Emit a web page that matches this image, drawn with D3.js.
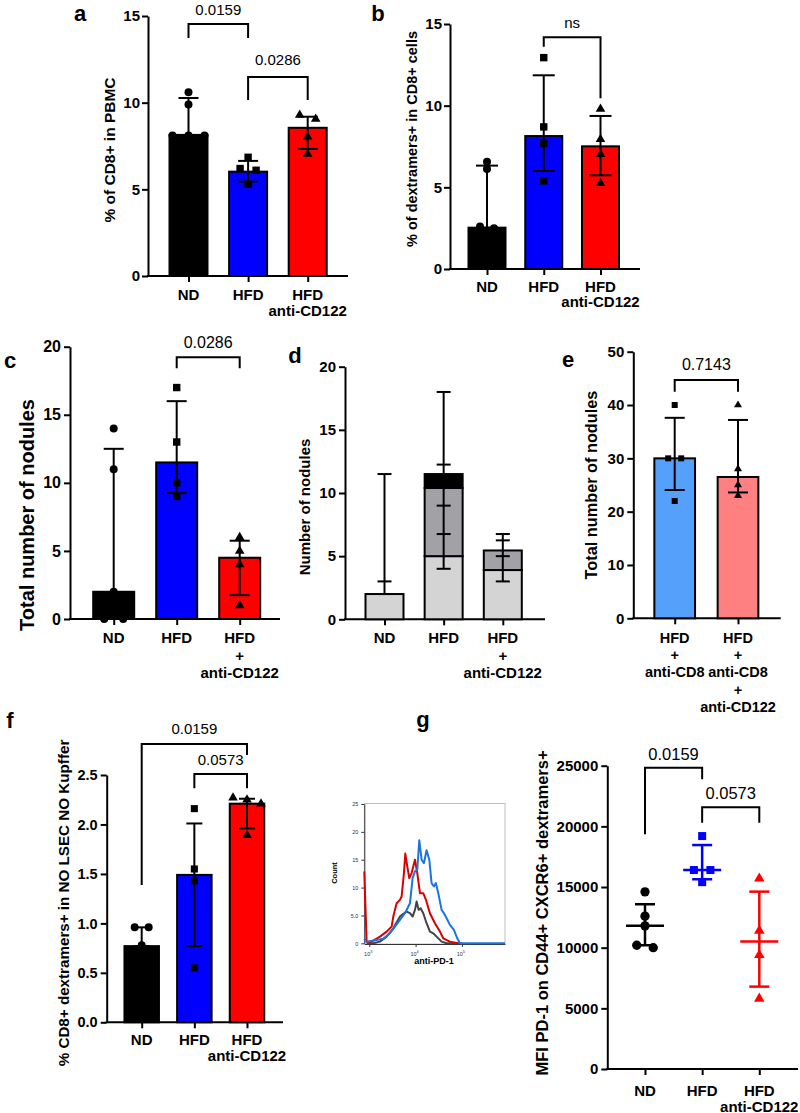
<!DOCTYPE html>
<html><head><meta charset="utf-8">
<script src="https://cdn.jsdelivr.net/npm/d3@7"></script>
<style>body{margin:0;background:#fff}svg{display:block}</style>
</head><body>
<svg id="fig" width="800" height="1113"></svg>
<script>
// ================= DATA =================
// Panel a
const aCategories = ["ND", "HFD", "HFD anti-CD122"];
const aLabels = [["ND"], ["HFD"], ["HFD", "anti-CD122"]];
const aBarValues = [8.14, 6.02, 8.55];
const aErrLow = [8.1, 5.44, 7.33];
const aErrHigh = [10.27, 6.64, 9.19];
const aPoints = [[10.6, 9.9, 8.1, 8.1, 8.1], [6.85, 6.2, 6.1, 5.3], [9.29, 9.06, 8.04, 7.04]];
const aTicks = [0, 5, 10, 15];
const aPValues = [["ND", "HFD", "0.0159"], ["HFD", "HFD anti-CD122", "0.0286"]];

// Panel b
const bCategories = ["ND", "HFD", "HFD anti-CD122"];
const bLabels = [["ND"], ["HFD"], ["HFD", "anti-CD122"]];
const bBarValues = [2.53, 8.14, 7.51];
const bErrLow = [2.53, 6.0, 5.74];
const bErrHigh = [6.33, 11.86, 9.37];
const bPoints = [[6.57, 6.12, 2.6, 2.5], [12.94, 8.7, 7.7, 5.4], [9.8, 7.94, 7.02, 5.25]];
const bTicks = [0, 5, 10, 15];
const bPValues = [["HFD", "HFD anti-CD122", "ns"]];

// Panel c
const cCategories = ["ND", "HFD", "HFD + anti-CD122"];
const cLabels = [["ND"], ["HFD"], ["HFD", "+", "anti-CD122"]];
const cBarValues = [2, 11.5, 4.5];
const cErrLow = [0, 9.25, 1.75];
const cErrHigh = [12.5, 16, 5.75];
const cPoints = [[14, 11, 2, 0, 0], [17, 13, 10, 9], [6, 5, 4, 1]];
const cTicks = [0, 5, 10, 15, 20];
const cPValues = [["HFD", "HFD + anti-CD122", "0.0286"]];

// Panel d (stacked)
const dCategories = ["ND", "HFD", "HFD + anti-CD122"];
const dLabels = [["ND"], ["HFD"], ["HFD", "+", "anti-CD122"]];
const dLight = [2, 5, 3.9];
const dDark = [0, 5.4, 1.55];
const dBlack = [0, 1.1, 0];
const dErrCaps = [[2, 3, 11.5], [4, 6.75, 9, 12.25, 18], [3, 5, 6.25, 6.75]];
const dTicks = [0, 5, 10, 15, 20];

// Panel e
const eCategories = ["HFD + anti-CD8", "HFD + anti-CD8 + anti-CD122"];
const eLabels = [["HFD", "+", "anti-CD8"], ["HFD", "+", "anti-CD8", "+", "anti-CD122"]];
const eBarValues = [30, 26.5];
const eErrLow = [24.06, 23.6];
const eErrHigh = [37.6, 37.2];
const ePoints = [[40, 30, 30, 22], [40, 28, 25, 23]];
const eTicks = [0, 10, 20, 30, 40, 50];
const ePValues = [["HFD + anti-CD8", "HFD + anti-CD8 + anti-CD122", "0.7143"]];

// Panel f
const fCategories = ["ND", "HFD", "HFD anti-CD122"];
const fLabels = [["ND"], ["HFD"], ["HFD", "anti-CD122"]];
const fBarValues = [0.77, 1.49, 2.21];
const fErrLow = [0.77, 0.77, 1.96];
const fErrHigh = [0.96, 2.01, 2.26];
const fPoints = [[0.96, 0.96, 0.78], [2.16, 1.55, 1.43, 0.55], [2.27, 2.25, 2.21, 1.89]];
const fTicks = [0, 0.5, 1.0, 1.5, 2.0, 2.5];
const fPValues = [["ND", "HFD anti-CD122", "0.0159"], ["HFD", "HFD anti-CD122", "0.0573"]];

// Panel g (scatter, mean ± SD)
const gCategories = ["ND", "HFD", "HFD anti-CD122"];
const gLabels = [["ND"], ["HFD"], ["HFD", "anti-CD122"]];
const gMeans = [11800, 16400, 10500];
const gErrLow = [10200, 15640, 6790];
const gErrHigh = [13580, 18460, 14620];
const gPoints = [[14600, 12600, 11800, 10200, 10000], [19200, 16400, 16400, 15400], [15700, 11400, 9400, 5800]];
const gTicks = [0, 5000, 10000, 15000, 20000, 25000];
const gPValues = [["ND", "HFD", "0.0159"], ["HFD", "HFD anti-CD122", "0.0573"]];

// Histogram (anti-PD-1, log10 intensity vs count)
const histTicksY = [0, 5, 10, 15, 20, 25];
const histTicksX = [3, 4, 5];
const histGrayLog = [2.942, 3.086, 3.23, 3.374, 3.518, 3.662, 3.734, 3.806, 3.878, 3.935, 3.986, 4.022, 4.065, 4.108, 4.165, 4.237, 4.309, 4.381, 4.453, 4.561, 4.669, 5.0];
const histGrayCount = [0, 0, 0.3, 1.2, 2.7, 4.8, 5.3, 5.7, 5.4, 4.8, 6.0, 7.5, 6.0, 6.3, 5.4, 3.6, 2.1, 1.8, 1.2, 0.3, 0, 0];
const histRedLog = [2.892, 2.942, 3.05, 3.23, 3.374, 3.482, 3.518, 3.59, 3.662, 3.698, 3.748, 3.777, 3.82, 3.863, 3.914, 3.986, 4.036, 4.094, 4.165, 4.223, 4.309, 4.417, 4.525, 4.597, 4.741, 4.921];
const histRedCount = [12.9, 0.3, 0.3, 1.2, 2.1, 3.0, 4.8, 7.2, 7.8, 8.4, 12.6, 16.1, 13.8, 11.7, 12.6, 15.0, 12.6, 9.0, 9.0, 7.8, 5.4, 3.6, 2.1, 0.9, 0.3, 0];
const histBlueLog = [2.892, 2.92, 2.95, 3.158, 3.302, 3.446, 3.554, 3.662, 3.77, 3.878, 3.935, 3.986, 4.036, 4.079, 4.129, 4.18, 4.237, 4.295, 4.345, 4.396, 4.439, 4.489, 4.561, 4.612, 4.669, 4.741, 4.827, 4.899, 4.957, 5.93];
const histBlueCount = [0.8, 0.4, 0.3, 0.6, 0.8, 1.8, 3.0, 4.2, 5.4, 7.2, 11.7, 12.9, 13.2, 18.5, 15.0, 14.4, 16.7, 15.0, 10.8, 10.2, 10.8, 9.0, 6.0, 5.4, 4.5, 3.3, 2.4, 0.9, 0, 0];

// ================= DRAWING =================
const FONT = '"Liberation Sans", Arial, Helvetica, sans-serif';
const svg = d3.select("#fig").attr("font-family", FONT);
const BLUE = "#0000ff", RED = "#ff0000", BLACK = "#000";

function addText(g, x, y, str, size, weight, anchor, fill) {
  return g.append("text").attr("x", x).attr("y", y)
    .attr("font-size", size).attr("font-weight", weight || "normal")
    .attr("text-anchor", anchor || "middle").attr("fill", fill || "#000")
    .attr("font-family", FONT).text(str);
}

function swarm(vals, y, thresh, spacing) {
  const items = vals.map(v => ({ v, py: y(v) })).sort((a, b) => a.py - b.py);
  const clusters = []; let cur = [];
  items.forEach(it => {
    if (cur.length && it.py - cur[cur.length - 1].py > thresh) { clusters.push(cur); cur = []; }
    cur.push(it);
  });
  if (cur.length) clusters.push(cur);
  const out = [];
  clusters.forEach(c => c.forEach((it, i) => out.push({ v: it.v, dx: (i - (c.length - 1) / 2) * spacing })));
  return out;
}

function frame(L, cats, ticks, max, fmt) {
  const g = svg.append("g");
  const y = d3.scaleLinear().domain([0, max]).range([L.yBot, L.yTop]);
  const x = d3.scalePoint().domain(cats).range([L.c0, L.c1]);
  const ax = d3.axisLeft(y).tickValues(ticks).tickSize(6).tickSizeOuter(0).tickPadding(L.tickPad || 3)
    .tickFormat(fmt || d3.format("d"));
  const a = g.append("g").attr("transform", `translate(${L.axisX},0)`).call(ax)
    .attr("font-family", FONT).attr("font-size", L.tickFont).attr("font-weight", "bold");
  a.select(".domain").attr("stroke", "#000").attr("stroke-width", 2);
  a.selectAll(".tick line").attr("stroke", "#000").attr("stroke-width", 2);
  a.selectAll(".tick text").attr("fill", "#000");
  g.append("line").attr("x1", L.axisX - 1).attr("x2", L.xEnd).attr("y1", L.yBot).attr("y2", L.yBot)
    .attr("stroke", "#000").attr("stroke-width", 2);
  const bx = g.append("g").attr("transform", `translate(0,${L.yBot})`)
    .call(d3.axisBottom(x).tickSize(6).tickSizeOuter(0).tickFormat(""));
  bx.select(".domain").remove();
  bx.selectAll(".tick line").attr("stroke", "#000").attr("stroke-width", 2);
  g.append("text").attr("transform", `translate(${L.titleX},${L.titleY}) rotate(-90)`)
    .attr("dy", "0.35em").attr("text-anchor", "middle").attr("font-size", L.titleFont)
    .attr("font-weight", "bold").attr("font-family", FONT).text(L.title);
  addText(g, L.letterX, L.letterY, L.letter, 22, "bold");
  return { g, x, y };
}

function catLabels(g, L, x, labels) {
  x.domain().forEach((c, i) => labels[i].forEach((line, j) =>
    addText(g, x(c), L.labelY + j * L.labelStep, line, L.catFont || 15, "bold")));
}

function bracketsDraw(g, L, x, pvals) {
  pvals.forEach((p, i) => {
    const b = L.brackets[i], x1 = x(p[0]), x2 = x(p[1]);
    g.append("path").attr("d", `M${x1},${b.legL}V${b.line}H${x2}V${b.legR}`)
      .attr("fill", "none").attr("stroke", "#000").attr("stroke-width", 2);
    addText(g, (x1 + x2) / 2, b.text, p[2], L.pFont || 15, "normal");
  });
}

function barsDraw(g, L, x, y, cats, vals, fills) {
  g.selectAll(null).data(cats).join("rect")
    .attr("x", c => x(c) - L.barW / 2).attr("width", L.barW)
    .attr("y", (c, i) => y(vals[i])).attr("height", (c, i) => y(0) - y(vals[i]))
    .attr("fill", (c, i) => fills[i]).attr("stroke", "#000").attr("stroke-width", 2);
}

function errDraw(g, x, y, cats, lo, hi, colors, capW, sw) {
  cats.forEach((c, i) => {
    const cx = x(c), col = colors[i];
    g.append("line").attr("x1", cx).attr("x2", cx).attr("y1", y(lo[i])).attr("y2", y(hi[i]))
      .attr("stroke", col).attr("stroke-width", sw);
    [lo[i], hi[i]].forEach(v => g.append("line").attr("x1", cx - capW).attr("x2", cx + capW)
      .attr("y1", y(v)).attr("y2", y(v)).attr("stroke", col).attr("stroke-width", sw));
  });
}

function pointsDraw(g, x, y, cats, pts, shapes, sizes, colors, spacing) {
  cats.forEach((c, i) => {
    swarm(pts[i], y, 5, spacing).forEach(p => {
      g.append("path").attr("d", d3.symbol().type(shapes[i]).size(sizes[i])())
        .attr("transform", `translate(${x(c) + p.dx},${y(p.v)})`).attr("fill", colors[i]);
    });
  });
}

const SH = [d3.symbolCircle, d3.symbolSquare, d3.symbolTriangle];

// ---------- Panel a ----------
{
  const L = { axisX: 148, yTop: 16, yBot: 276, xEnd: 348, c0: 188.5, c1: 307.7, barW: 38, tickFont: 15, tickPad: 2,
    title: "% of CD8+ in PBMC", titleX: 110, titleY: 150, titleFont: 15.5, letter: "a", letterX: 80, letterY: 21,
    labelY: 300, labelStep: 16,
    brackets: [{ line: 24, legL: 38, legR: 38, text: 15 }, { line: 77, legL: 100, legR: 100, text: 65 }] };
  const { g, x, y } = frame(L, aCategories, aTicks, 15);
  barsDraw(g, L, x, y, aCategories, aBarValues, [BLACK, BLUE, RED]);
  pointsDraw(g, x, y, aCategories, aPoints, SH, [50, 55, 40], ["#000", "#000", "#000"], 16);
  errDraw(g, x, y, aCategories, aErrLow, aErrHigh, ["#000", "#000", "#000"], 10, 2);
  catLabels(g, L, x, aLabels);
  bracketsDraw(g, L, x, aPValues);
}
// ---------- Panel b ----------
{
  const L = { axisX: 450, yTop: 24, yBot: 269, xEnd: 640, c0: 487, c1: 600.5, barW: 37, tickFont: 15, tickPad: 2,
    title: "% of dextramers+ in CD8+ cells", titleX: 412, titleY: 139, titleFont: 14.5, letter: "b", letterX: 378, letterY: 21,
    labelY: 292, labelStep: 15,
    brackets: [{ line: 37.3, legL: 46.7, legR: 98.3, text: 28 }] };
  const { g, x, y } = frame(L, bCategories, bTicks, 15);
  barsDraw(g, L, x, y, bCategories, bBarValues, [BLACK, BLUE, RED]);
  pointsDraw(g, x, y, bCategories, bPoints, SH, [50, 55, 40], ["#000", "#000", "#000"], 14);
  errDraw(g, x, y, bCategories, bErrLow, bErrHigh, ["#000", "#000", "#000"], 11, 2);
  catLabels(g, L, x, bLabels);
  bracketsDraw(g, L, x, bPValues);
}
// ---------- Panel c ----------
{
  const L = { axisX: 70, yTop: 346.7, yBot: 619, xEnd: 280, c0: 113.7, c1: 239.7, barW: 41, tickFont: 16,
    title: "Total number of nodules", titleX: 27, titleY: 515, titleFont: 20, letter: "c", letterX: 10, letterY: 368,
    labelY: 643, labelStep: 17.5, pFont: 16,
    brackets: [{ line: 357.3, legL: 368.3, legR: 368.3, text: 348 }] };
  const { g, x, y } = frame(L, cCategories, cTicks, 20);
  barsDraw(g, L, x, y, cCategories, cBarValues, [BLACK, BLUE, RED]);
  pointsDraw(g, x, y, cCategories, cPoints, SH, [50, 55, 40], ["#000", "#000", "#000"], 19);
  errDraw(g, x, y, cCategories, cErrLow, cErrHigh, ["#000", "#000", "#000"], 10, 2);
  catLabels(g, L, x, cLabels);
  bracketsDraw(g, L, x, cPValues);
}
// ---------- Panel d ----------
{
  const L = { axisX: 345, yTop: 366.7, yBot: 619.3, xEnd: 545, c0: 384.5, c1: 502.8, barW: 38, tickFont: 15,
    title: "Number of nodules", titleX: 305, titleY: 507, titleFont: 15, letter: "d", letterX: 295, letterY: 363,
    labelY: 643, labelStep: 17.5 };
  const { g, x, y } = frame(L, dCategories, dTicks, 20);
  const rows = dCategories.map((c, i) => ({ cat: c, light: dLight[i], dark: dDark[i], black: dBlack[i] }));
  const series = d3.stack().keys(["light", "dark", "black"])(rows);
  const fills = { light: "#d4d4d4", dark: "#a2a2a6", black: "#000" };
  series.forEach(s => {
    s.forEach(seg => {
      if (seg[1] - seg[0] <= 0) return;
      g.append("rect").attr("x", x(seg.data.cat) - L.barW / 2).attr("width", L.barW)
        .attr("y", y(seg[1])).attr("height", y(seg[0]) - y(seg[1]))
        .attr("fill", fills[s.key]).attr("stroke", "#000").attr("stroke-width", 2);
    });
  });
  dCategories.forEach((c, i) => {
    const caps = dErrCaps[i], cx = x(c);
    g.append("line").attr("x1", cx).attr("x2", cx).attr("y1", y(d3.min(caps))).attr("y2", y(d3.max(caps)))
      .attr("stroke", "#000").attr("stroke-width", 2);
    caps.forEach(v => g.append("line").attr("x1", cx - 7).attr("x2", cx + 7).attr("y1", y(v)).attr("y2", y(v))
      .attr("stroke", "#000").attr("stroke-width", 2));
  });
  catLabels(g, L, x, dLabels);
}
// ---------- Panel e ----------
{
  const L = { axisX: 633.3, yTop: 351.7, yBot: 618.3, xEnd: 780.7, c0: 674.7, c1: 738, barW: 40.7, tickFont: 15,
    title: "Total number of nodules", titleX: 591, titleY: 485, titleFont: 16.3, letter: "e", letterX: 568, letterY: 367,
    labelY: 643, labelStep: 17.2, pFont: 16, catFont: 14.5,
    brackets: [{ line: 380, legL: 391.7, legR: 391.7, text: 370 }] };
  const { g, x, y } = frame(L, eCategories, eTicks, 50);
  barsDraw(g, L, x, y, eCategories, eBarValues, ["#55a0fa", "#ff8080"]);
  pointsDraw(g, x, y, eCategories, ePoints, [d3.symbolSquare, d3.symbolTriangle], [36, 28], ["#000", "#000"], 13);
  errDraw(g, x, y, eCategories, eErrLow, eErrHigh, ["#000", "#000"], 10, 2);
  catLabels(g, L, x, eLabels);
  bracketsDraw(g, L, x, ePValues);
}
// ---------- Panel f ----------
{
  const L = { axisX: 106.7, yTop: 775, yBot: 1022.3, xEnd: 283, c0: 141.7, c1: 247, barW: 34.5, tickFont: 14.5,
    title: "% CD8+ dextramers+ in NO LSEC NO Kupffer", titleX: 64, titleY: 903, titleFont: 15.2, letter: "f", letterX: 10, letterY: 728,
    labelY: 1045, labelStep: 16, pFont: 15,
    brackets: [{ line: 744, legL: 885, legR: 755, text: 734 }, { line: 774, legL: 788.3, legR: 788.3, text: 765 }] };
  const { g, x, y } = frame(L, fCategories, fTicks, 2.5, d3.format(".1f"));
  barsDraw(g, L, x, y, fCategories, fBarValues, [BLACK, BLUE, RED]);
  pointsDraw(g, x, y, fCategories, fPoints, SH, [50, 50, 40], ["#000", "#000", "#000"], 14);
  errDraw(g, x, y, fCategories, fErrLow, fErrHigh, ["#000", "#000", "#000"], 8, 2);
  catLabels(g, L, x, fLabels);
  bracketsDraw(g, L, x, fPValues);
}
// ---------- Panel g ----------
{
  const L = { axisX: 607.3, yTop: 765.7, yBot: 1069, xEnd: 798, c0: 645, c1: 759.3, tickFont: 15,
    title: "MFI PD-1 on CD44+ CXCR6+ dextramers+", titleX: 542.5, titleY: 913, titleFont: 16.5, letter: "g", letterX: 423, letterY: 727,
    labelY: 1095.5, labelStep: 16, pFont: 16.5,
    brackets: [{ line: 767.7, legL: 834.3, legR: 779.3, text: 760 }, { line: 807.3, legL: 822.7, legR: 822.7, text: 798.5 }] };
  const { g, x, y } = frame(L, gCategories, gTicks, 25000);
  const cols = ["#000", "#0000ff", "#ff0000"];
  pointsDraw(g, x, y, gCategories, gPoints, SH, [68, 64, 48], cols, 16.5);
  gCategories.forEach((c, i) => {
    g.append("line").attr("x1", x(c) - 19).attr("x2", x(c) + 19).attr("y1", y(gMeans[i])).attr("y2", y(gMeans[i]))
      .attr("stroke", cols[i]).attr("stroke-width", 2.5);
  });
  errDraw(g, x, y, gCategories, gErrLow, gErrHigh, cols, 10, 2.5);
  catLabels(g, L, x, gLabels);
  bracketsDraw(g, L, x, gPValues);
}
// ---------- Histogram ----------
{
  const g = svg.append("g");
  const hx = d3.scaleLinear().domain([2.892, 5.93]).range([364.3, 505]);
  const hy = d3.scaleLinear().domain([0, 25]).range([943.3, 804]);
  g.append("rect").attr("x", 364.3).attr("y", 803.5).attr("width", 505 - 364.3).attr("height", 944 - 803.5)
    .attr("fill", "none").attr("stroke", "#b0b0b0").attr("stroke-width", 0.8);
  const ya = g.append("g").attr("transform", "translate(364.3,0)")
    .call(d3.axisLeft(hy).tickValues(histTicksY).tickSize(3).tickSizeOuter(0).tickPadding(3)
      .tickFormat(d => d === 5 ? "5.0" : d))
    .attr("font-family", FONT).attr("font-size", 5.5);
  ya.select(".domain").attr("stroke", "#333").attr("stroke-width", 1);
  ya.selectAll(".tick line").attr("stroke", "#333");
  ya.selectAll(".tick text").attr("fill", "#333");
  const xa = g.append("g").attr("transform", "translate(0,944)")
    .call(d3.axisBottom(hx).tickValues(histTicksX).tickSize(3).tickSizeOuter(0).tickFormat(""));
  xa.select(".domain").attr("stroke", "#333").attr("stroke-width", 1);
  xa.selectAll(".tick line").attr("stroke", "#333");
  histTicksX.forEach(t => {
    const tx = g.append("text").attr("x", hx(t) - 1).attr("y", 955.5).attr("text-anchor", "middle")
      .attr("font-size", 5.5).attr("font-family", FONT).attr("fill", "#333");
    tx.append("tspan").text("10");
    tx.append("tspan").attr("dy", -2.5).attr("font-size", 4).text(String(t));
  });
  const line = d3.line().x(d => hx(d[0])).y(d => hy(d[1]));
  const curves = [[histGrayLog, histGrayCount, "#444444"], [histRedLog, histRedCount, "#d80000"], [histBlueLog, histBlueCount, "#1a74e2"]];
  curves.forEach(([lx, ly, col]) => {
    g.append("path").attr("d", line(lx.map((v, i) => [v, ly[i]])))
      .attr("fill", "none").attr("stroke", col).attr("stroke-width", 2).attr("stroke-linejoin", "round");
  });
  g.append("text").attr("transform", "translate(334.3,873) rotate(-90)").attr("dy", "0.35em")
    .attr("text-anchor", "middle").attr("font-size", 7.5).attr("font-weight", "bold").attr("font-family", FONT).text("Count");
  addText(g, 434, 964, "anti-PD-1", 9, "bold");
}
</script>
</body></html>
